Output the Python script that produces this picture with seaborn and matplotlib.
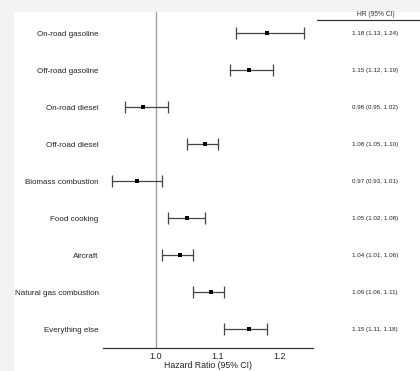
import matplotlib
matplotlib.use("Agg")
import matplotlib.pyplot as plt
import matplotlib.transforms as mtransforms
from matplotlib.lines import Line2D
from matplotlib.patches import Rectangle
import seaborn as sns
import pandas as pd

# Data
sources = ["On-road gasoline", "Off-road gasoline", "On-road diesel", "Off-road diesel",
           "Biomass combustion", "Food cooking", "Aircraft", "Natural gas combustion",
           "Everything else"]
hr = [1.18, 1.15, 0.98, 1.08, 0.97, 1.05, 1.04, 1.09, 1.15]
ci_low = [1.13, 1.12, 0.95, 1.05, 0.93, 1.02, 1.01, 1.06, 1.11]
ci_high = [1.24, 1.19, 1.02, 1.10, 1.01, 1.08, 1.06, 1.11, 1.18]
hr_labels = ["1.18 (1.13, 1.24)", "1.15 (1.12, 1.19)", "0.98 (0.95, 1.02)",
             "1.08 (1.05, 1.10)", "0.97 (0.93, 1.01)", "1.05 (1.02, 1.08)",
             "1.04 (1.01, 1.06)", "1.09 (1.06, 1.11)", "1.15 (1.11, 1.18)"]
xticks = [1.0, 1.1, 1.2]

df = pd.DataFrame({"source": sources, "hr": hr, "lo": ci_low, "hi": ci_high,
                   "row": range(len(sources))})

sns.set_style("white")
plt.rcParams["font.family"] = ["Liberation Sans", "DejaVu Sans"]

fig = plt.figure(figsize=(4.2, 3.71), dpi=100, facecolor="#f3f3f3")
# white panel behind everything
fig.patches.append(Rectangle((14 / 420, 0), 1, (371 - 12) / 371, transform=fig.transFigure,
                             facecolor="white", edgecolor="none", zorder=-10))
ax = fig.add_axes([102.7 / 420, 23 / 371, (313 - 102.7) / 420, (348 - 12) / 371])
ax.set_facecolor("none")
ax.set_zorder(1)

ax.axvline(1.0, color="#a0a0a0", lw=1, zorder=1)
ax.errorbar(df["hr"], df["row"], xerr=[df["hr"] - df["lo"], df["hi"] - df["hr"]],
            fmt="none", ecolor="#444444", elinewidth=0.9, capsize=4, capthick=0.9, zorder=2)
sns.scatterplot(data=df, x="hr", y="row", ax=ax, color="black", marker="s", s=8,
                linewidth=0, zorder=3)

ax.set_xlim(0.9145, 1.254)
ax.set_ylim(8.51, -0.57)
ax.set_yticks(df["row"])
ax.set_yticklabels(sources, fontsize=5.8, color="#222222")
ax.set_xticks(xticks)
ax.set_xticklabels([f"{t:.1f}" for t in xticks], fontsize=6.5, color="#222222")
ax.tick_params(length=0, pad=3)
ax.set_xlabel("Hazard Ratio (95% CI)", fontsize=6.3, color="#222222", labelpad=0)
ax.set_ylabel("")
for s in ["left", "top", "right"]:
    ax.spines[s].set_visible(False)
ax.spines["bottom"].set_color("#333333")
ax.spines["bottom"].set_linewidth(0.9)

# right-hand text column
trans = mtransforms.blended_transform_factory(fig.transFigure, ax.transData)
for r, lab in zip(df["row"], hr_labels):
    ax.text(375 / 420, r, lab, transform=trans, ha="center", va="center",
            fontsize=4.5, color="#222222", clip_on=False)
fig.text(376 / 420, (371 - 14) / 371, "HR (95% CI)", ha="center", va="center",
         fontsize=4.8, color="#333333")
fig.lines.append(Line2D([317 / 420, 1], [(371 - 20) / 371] * 2, transform=fig.transFigure,
                        color="#333333", lw=0.9))

fig.savefig("out.png", dpi=100, facecolor=fig.get_facecolor())
